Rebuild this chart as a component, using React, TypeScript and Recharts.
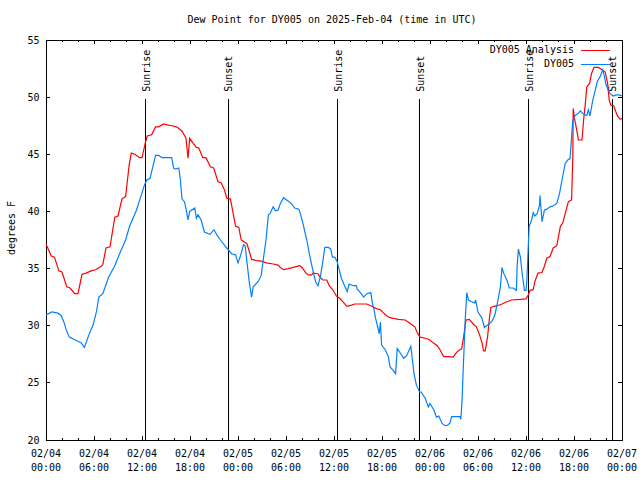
import React from 'react';
import { LineChart, Line, XAxis, YAxis, ReferenceLine, ReferenceArea, Legend } from 'recharts';

// hours since 2025-02-04 00:00 UTC
const analysisHours = [
  0, 0.65, 1.06, 1.6, 2.0, 2.6, 3.0, 3.6, 4.0, 4.5, 5.0, 5.65, 6.2, 6.9, 7.1, 7.5, 8.0, 8.6, 9.0, 9.5,
  9.95, 10.4, 10.66, 11.1, 11.7, 12.0, 12.45, 12.66, 13.2, 13.7, 14.1, 14.7, 15.25, 15.7, 16.3, 16.9, 17.1, 17.5, 17.75, 17.96,
  18.4, 18.8, 19.1, 19.6, 20.0, 20.55, 20.96, 21.5, 21.9, 22.3, 22.6, 23.05, 23.4, 23.7, 24.1, 24.4, 24.85, 25.1, 25.5, 25.7,
  26.3, 26.9, 27.55, 28.4, 29.0, 29.3, 29.7, 30.3, 30.9, 31.7, 32.0, 32.5, 32.8, 33.2, 33.4, 34.0, 34.2, 34.6, 35.1, 35.4,
  35.9, 36.3, 36.7, 37.1, 37.6, 38.2, 38.6, 40.1, 40.7, 41.3, 41.8, 42.15, 42.6, 43.0, 43.4, 44.0, 44.9, 45.3, 45.7, 46.1,
  46.4, 46.75, 47.4, 47.9, 48.4, 48.9, 49.25, 49.7, 50.3, 50.9, 51.3, 51.7, 51.95, 52.2, 52.5, 52.9, 53.4, 53.8, 54.2, 54.5,
  54.7, 54.9, 55.2, 55.4, 55.6, 56.0, 56.4, 57.0, 57.6, 58.2, 59.3, 60.0, 60.3, 60.5, 60.9, 61.1, 61.5, 62.0, 62.3, 62.6,
  63.0, 63.4, 63.85, 64.3, 64.6, 64.9, 65.3, 65.7, 65.85, 65.9, 66.1, 66.35, 66.55, 67.0, 67.2, 67.4, 67.6, 67.95, 68.2, 68.5,
  69.05, 69.5, 69.9, 70.2, 70.4, 70.6, 70.95, 71.4, 71.7, 72,
];
const analysisDewF = [
  37.15, 36.1, 36.0, 34.8, 34.7, 33.4, 33.3, 32.8, 32.8, 34.5, 34.6, 34.8, 34.9, 35.2, 35.35, 36.8, 36.9, 39.5, 39.6, 41.1,
  41.3, 44.1, 45.1, 45.0, 44.7, 44.7, 46.1, 46.6, 46.7, 47.4, 47.4, 47.65, 47.55, 47.5, 47.4, 47.1, 46.9, 46.4, 44.65, 46.4,
  45.96, 45.6, 45.55, 44.7, 44.7, 43.9, 43.8, 42.6, 42.5, 41.9, 41.15, 41.1, 39.8, 38.7, 38.6, 37.5, 37.3, 37.2, 36.3, 35.8,
  35.7, 35.65, 35.5, 35.4, 35.3, 35.1, 34.9, 35.0, 35.1, 35.25, 35.1, 34.6, 34.44, 34.44, 34.6, 34.55, 34.3, 34.0, 34.0, 33.5,
  33.1, 32.6, 32.4, 32.1, 31.7, 31.8, 31.9, 31.9, 31.7, 31.5, 31.4, 31.15, 30.85, 30.7, 30.65, 30.55, 30.5, 30.3, 30.1, 29.9,
  29.4, 29.0, 28.9, 28.8, 28.5, 28.25, 27.9, 27.3, 27.3, 27.25, 27.65, 27.9, 27.95, 29.0, 30.5, 30.55, 30.15, 29.9, 29.2, 28.5,
  27.8, 27.8, 29.05, 30.5, 31.6, 31.7, 31.75, 31.9, 32.1, 32.25, 32.3, 32.35, 32.7, 33.1, 33.15, 33.85, 34.6, 34.65, 35.2, 35.9,
  36.05, 36.8, 37.0, 38.7, 39.0, 39.8, 40.85, 41.0, 44.8, 49.0, 48.0, 47.1, 46.25, 46.25, 48.0, 49.3, 50.9, 51.2, 52.1, 52.6,
  52.6, 52.4, 52.2, 51.2, 49.75, 49.3, 49.25, 48.4, 48.1, 48.1,
];

const stationHours = [
  0, 0.73, 1.48, 1.9, 2.3, 2.5, 2.9, 3.8, 4.4, 4.8, 5.36, 5.9, 6.3, 6.6, 7.1, 7.86, 8.57, 9.2, 9.95, 10.45,
  11.3, 11.9, 12.3, 12.6, 13.0, 13.4, 13.7, 14.1, 14.5, 15.7, 15.96, 16.2, 16.6, 16.8, 17.0, 17.3, 17.55, 17.75, 17.96, 18.6,
  18.8, 19.0, 19.4, 19.8, 20.5, 21.0, 21.4, 21.8, 22.6, 23.2, 23.7, 24.0, 24.35, 24.7, 24.9, 25.1, 25.4, 25.7, 25.9, 26.5,
  26.9, 27.2, 27.5, 27.8, 28.0, 28.4, 28.7, 29.0, 29.3, 29.7, 30.3, 30.7, 31.1, 31.6, 31.8, 32.1, 32.6, 33.0, 33.4, 33.7,
  34.0, 34.3, 34.6, 34.85, 35.3, 35.6, 35.8, 36.1, 36.4, 36.65, 36.9, 37.2, 37.65, 37.9, 38.4, 38.8, 38.9, 39.3, 39.7, 40.1,
  40.6, 40.8, 41.0, 41.2, 41.5, 41.65, 41.8, 41.95, 42.4, 42.8, 43.0, 43.4, 43.7, 43.9, 44.2, 44.7, 45.1, 45.6, 45.8, 46.0,
  46.3, 46.7, 46.9, 47.4, 47.8, 48.0, 48.5, 48.8, 49.1, 49.5, 49.9, 50.2, 50.5, 50.7, 51.75, 51.85, 52.0, 52.1, 52.2, 52.4,
  52.6, 52.8, 53.2, 53.6, 53.7, 54.0, 54.5, 54.8, 55.3, 55.7, 56.1, 56.5, 56.8, 57.0, 57.2, 57.6, 57.8, 57.9, 58.4, 58.8,
  58.9, 59.05, 59.3, 59.5, 59.8, 60.0, 60.1, 60.3, 60.4, 60.7, 60.9, 61.1, 61.4, 61.7, 61.75, 62.0, 62.3, 62.6, 63.0, 63.4,
  63.85, 64.2, 64.5, 64.9, 65.3, 65.5, 65.7, 65.85, 66.1, 66.55, 66.8, 67.2, 67.6, 67.8, 68.0, 68.35, 68.65, 68.9, 69.3, 69.6,
  69.8, 70.0, 70.3, 70.5, 70.9, 71.3, 71.6, 72,
];
const stationDewF = [
  30.95, 31.2, 31.1, 30.9, 30.2, 29.7, 29.0, 28.7, 28.5, 28.1, 29.2, 30.1, 31.2, 32.5, 32.8, 34.3, 35.2, 36.3, 37.5, 38.7,
  40.1, 41.4, 42.3, 42.75, 42.9, 44.06, 44.9, 44.9, 44.7, 44.7, 43.8, 43.7, 43.8, 42.75, 41.1, 40.85, 40.1, 39.25, 40.0, 40.3,
  39.4, 39.7, 39.25, 38.2, 38.0, 38.4, 37.9, 37.5, 36.8, 36.3, 36.2, 35.5, 36.2, 37.1, 37.0, 35.7, 33.85, 32.5, 33.4, 33.85,
  34.4, 36.0, 37.5, 39.7, 39.8, 40.4, 40.06, 40.1, 40.7, 41.2, 40.9, 40.65, 40.3, 40.2, 39.8, 39.0, 37.5, 36.0, 34.7, 33.85,
  33.5, 34.3, 35.6, 36.85, 36.85, 36.7, 36.0, 36.0, 35.6, 34.9, 34.2, 33.7, 33.0, 33.65, 33.5, 33.5, 33.2, 32.9, 32.5, 32.8,
  32.9, 31.96, 31.4, 30.65, 29.8, 29.3, 30.3, 28.3, 27.9, 27.3, 26.4, 26.1, 25.8, 28.0, 27.7, 27.15, 27.4, 28.2, 27.0, 25.8,
  24.8, 24.2, 24.2, 23.65, 22.9, 23.2, 22.6, 22.0, 22.1, 21.45, 21.25, 21.3, 21.5, 22.05, 22.05, 21.8, 23.35, 25.25, 27.0, 30.5,
  32.9, 32.25, 32.1, 32.0, 32.25, 31.2, 30.65, 29.85, 30.1, 30.35, 30.9, 32.25, 33.4, 35.1, 34.6, 34.0, 33.6, 33.3, 33.3, 33.1,
  35.3, 36.7, 36.0, 34.7, 33.1, 33.1, 33.85, 37.2, 38.7, 39.25, 39.9, 39.6, 39.8, 40.6, 41.4, 39.1, 40.1, 40.2, 40.4, 40.5,
  40.7, 41.6, 42.75, 44.2, 44.56, 44.6, 46.5, 48.0, 48.35, 48.6, 48.8, 48.5, 48.4, 48.9, 48.35, 49.75, 50.6, 51.35, 51.85, 52.4,
  51.8, 51.1, 50.6, 50.3, 50.1, 50.2, 50.2, 50.1,
];

const sunEventHours = [12.4, 22.75, 36.4, 46.7, 60.35, 70.75];
const sunEventNames = ['Sunrise', 'Sunset', 'Sunrise', 'Sunset', 'Sunrise', 'Sunset'];

const xTickHours = [
  0, 2, 4, 6, 8, 10, 12, 14, 16, 18, 20, 22, 24, 26, 28, 30, 32, 34, 36,
  38, 40, 42, 44, 46, 48, 50, 52, 54, 56, 58, 60, 62, 64, 66, 68, 70, 72,
];
const xTickDates = ['02/04', '02/04', '02/04', '02/04', '02/05', '02/05', '02/05', '02/05', '02/06', '02/06', '02/06', '02/06', '02/07'];
const xTickTimes = ['00:00', '06:00', '12:00', '18:00', '00:00', '06:00', '12:00', '18:00', '00:00', '06:00', '12:00', '18:00', '00:00'];
const yTicks = [20, 25, 30, 35, 40, 45, 50, 55];

const seriesNames = ['DY005 Analysis', 'DY005'];
const seriesColors = ['#ff0000', '#0080ff'];

const analysisData = analysisHours.map((h, i) => ({ h, dew: analysisDewF[i] }));
const stationData = stationHours.map((h, i) => ({ h, dew: stationDewF[i] }));

const FONT = '"DejaVu Sans Mono", monospace';
const PLOT_LEFT = 46;
const PLOT_RIGHT = 622;
const PLOT_TOP = 40;
const PLOT_BOTTOM = 440;

function TimeTick(props: any) {
  const { x, payload } = props;
  const h = payload.value;
  const major = h % 6 === 0;
  const len = major ? 4 : 2;
  const i = h / 6;
  return (
    <g>
      <line x1={x} x2={x} y1={PLOT_BOTTOM} y2={PLOT_BOTTOM - len} stroke="#000" shapeRendering="crispEdges" />
      <line x1={x} x2={x} y1={PLOT_TOP} y2={PLOT_TOP + len} stroke="#000" shapeRendering="crispEdges" />
      {major && (
        <text x={x} y={457} textAnchor="middle" fontFamily={FONT} fontSize={10} fill="#000">
          {xTickDates[i]}
        </text>
      )}
      {major && (
        <text x={x} y={471} textAnchor="middle" fontFamily={FONT} fontSize={10} fill="#000">
          {xTickTimes[i]}
        </text>
      )}
    </g>
  );
}

function DewTick(props: any) {
  const { y, payload } = props;
  return (
    <g>
      <line x1={PLOT_LEFT} x2={PLOT_LEFT + 4} y1={y} y2={y} stroke="#000" shapeRendering="crispEdges" />
      <line x1={PLOT_RIGHT} x2={PLOT_RIGHT - 4} y1={y} y2={y} stroke="#000" shapeRendering="crispEdges" />
      <text x={39.5} y={y + 3.5} textAnchor="end" fontFamily={FONT} fontSize={10} fill="#000">
        {payload.value}
      </text>
    </g>
  );
}

function SunLabel(props: any) {
  const vb = props.viewBox || {};
  const x = vb.x + 4.5;
  const y = vb.y - 7;
  return (
    <text x={x} y={y} transform={`rotate(-90 ${x} ${y})`} textAnchor="start" fontFamily={FONT} fontSize={10} fill="#000">
      {props.text}
    </text>
  );
}

function LegendBox() {
  return (
    <div style={{ fontFamily: FONT, fontSize: 10, lineHeight: '14px', color: '#000' }}>
      {seriesNames.map((name, i) => (
        <div key={name} style={{ display: 'flex', justifyContent: 'flex-end', alignItems: 'center', height: 14 }}>
          <span style={{ whiteSpace: 'pre' }}>{name}</span>
          <span style={{ display: 'inline-block', width: 29, height: 1, background: seriesColors[i], marginLeft: 7 }} />
        </div>
      ))}
    </div>
  );
}

export default function App() {
  return (
    <div style={{ position: 'absolute', left: 0, top: 0, width: 640, height: 480, background: '#fff' }}>
      <div
        style={{
          position: 'absolute', left: 0, top: 14, width: 664, textAlign: 'center',
          fontFamily: FONT, fontSize: 10, lineHeight: '12px', color: '#000', whiteSpace: 'pre',
        }}
      >
        Dew Point for DY005 on 2025-Feb-04 (time in UTC)
      </div>
      <LineChart width={640} height={480} margin={{ top: 40, right: 18, bottom: 0, left: 0 }}>
        <XAxis
          dataKey="h"
          type="number"
          domain={[0, 72]}
          ticks={xTickHours}
          interval={0}
          height={40}
          axisLine={false}
          tickLine={false}
          tickSize={0}
          tick={<TimeTick />}
          allowDataOverflow
        />
        <YAxis
          type="number"
          domain={[20, 55]}
          ticks={yTicks}
          interval={0}
          width={46}
          axisLine={false}
          tickLine={false}
          tickSize={0}
          tick={<DewTick />}
          allowDataOverflow
          label={
            <text x={11} y={240} transform="rotate(-90 11 240)" textAnchor="middle" dominantBaseline="central" fontFamily={FONT} fontSize={10} fill="#000">
              degrees F
            </text>
          }
        />
        <ReferenceArea x1={0} x2={72} y1={20} y2={55} fill="none" stroke="#000" strokeWidth={1} shapeRendering="crispEdges" />
        {sunEventHours.map((h, i) => (
          <ReferenceLine
            key={i}
            segment={[{ x: h, y: 49.85 }, { x: h, y: 20 }]}
            stroke="#000"
            strokeWidth={1}
            shapeRendering="crispEdges"
            label={<SunLabel text={sunEventNames[i]} />}
          />
        ))}
        <Line data={analysisData} dataKey="dew" name={seriesNames[0]} type="linear" stroke={seriesColors[0]} strokeWidth={1.2} dot={false} activeDot={false} isAnimationActive={false} />
        <Line data={stationData} dataKey="dew" name={seriesNames[1]} type="linear" stroke={seriesColors[1]} strokeWidth={1.2} dot={false} activeDot={false} isAnimationActive={false} />
        <Legend
          layout="horizontal"
          verticalAlign="middle"
          align="center"
          content={() => <LegendBox />}
          wrapperStyle={{ position: 'absolute', top: 43, left: 480, width: 130, height: 28 }}
        />
      </LineChart>
    </div>
  );
}
